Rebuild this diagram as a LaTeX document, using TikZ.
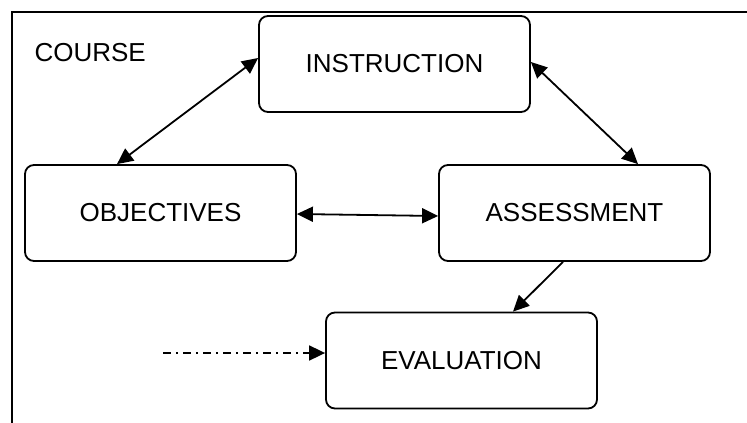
\documentclass[tikz,border=0pt]{standalone}
\usepackage{fontspec}
\setmainfont{Liberation Sans}
\usetikzlibrary{arrows.meta}
\begin{document}
\begin{tikzpicture}[x=1pt, y=-1pt,
		stage/.style={draw, line width=1.8pt, rounded corners=9pt, minimum width=271pt, minimum height=96pt, font=\fontsize{26}{30}\selectfont},
		link/.style={line width=1.8pt, {Triangle[length=16pt,width=15pt]}-{Triangle[length=16pt,width=15pt]}},
		flow/.style={line width=1.8pt, -{Triangle[length=16pt,width=15pt]}}]
		\useasboundingbox (0,0) rectangle (747,423);
		\clip (0,0) rectangle (747,423);
		\draw[line width=1.8pt] (12,440) -- (12,12) -- (760,12);
		\node[anchor=west, font=\fontsize{26}{30}\selectfont] (course) at (31,53) {COURSE};
		\node[stage] (instr) at (394.5,64) {INSTRUCTION};
		\node[stage] (obj) at (160.5,213) {OBJECTIVES};
		\node[stage] (assess) at (574.5,213) {ASSESSMENT};
		\node[stage] (eval) at (461.5,360.5) {EVALUATION};
		\coordinate (entry) at (163,353);
		\draw[link] ([yshift=6pt]instr.west) -- ([xshift=-43.5pt]obj.north);
		\draw[link] ([yshift=2pt]instr.east) -- ([xshift=63.5pt]assess.north);
		\draw[link] ([yshift=-1pt]obj.east) -- ([yshift=-3pt]assess.west);
		\draw[flow] ([xshift=-11.5pt]assess.south) -- ([xshift=51.5pt]eval.north);
		\draw[flow, dash pattern=on 8pt off 5pt on 2pt off 5pt] (entry) -- ([yshift=7.5pt]eval.west);
	\end{tikzpicture}
\end{document}
